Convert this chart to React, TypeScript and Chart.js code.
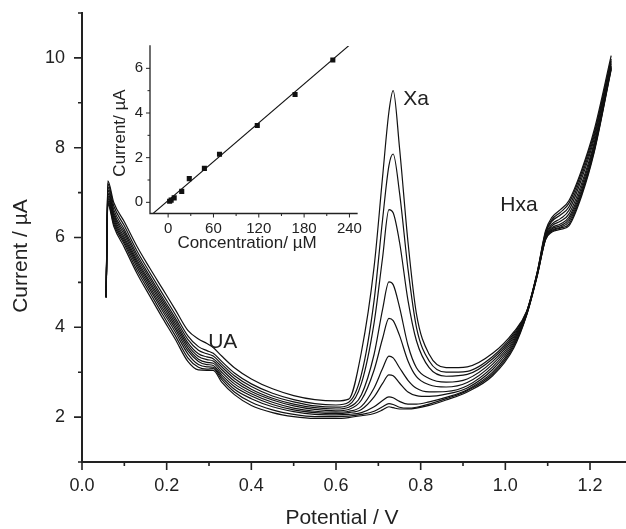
import React, { useEffect, useRef } from "react";
import { Chart, registerables } from "chart.js";
Chart.register(...registerables);

const FONT = "'Liberation Sans', Arial, Helvetica, sans-serif";
const INK = "#222222";
const LINE = "#111111";

// ---------- main voltammograms ----------
const POTENTIAL = [
  0.057, 0.061, 0.075, 0.1, 0.13, 0.16, 0.19, 0.22, 0.25, 0.275, 0.295, 0.31, 0.33, 0.36, 0.4, 0.45, 0.5, 0.55, 0.6,
  0.63, 0.66, 0.69, 0.71, 0.725, 0.735, 0.75, 0.77, 0.79, 0.82, 0.86, 0.91, 0.97,
  1.02, 1.05, 1.075, 1.095, 1.11, 1.13, 1.15, 1.18, 1.21, 1.25,
];

const CURRENT_1 = [
  4.67, 7.26, 6.78, 6.35, 5.8, 5.32, 4.86, 4.4, 3.93, 3.74, 3.64, 3.55, 3.36, 3.1, 2.85, 2.63, 2.48, 2.39, 2.36,
  2.4, 3.45, 5.35, 7.35, 8.8, 9.27, 8.0, 5.9, 4.3, 3.4, 3.1, 3.12, 3.42,
  3.9, 4.35, 5.22, 6.15, 6.45, 6.62, 6.82, 7.5, 8.4, 10.05,
];
const CURRENT_2 = [
  4.67, 7.2, 6.7, 6.26, 5.7, 5.22, 4.75, 4.29, 3.81, 3.57, 3.48, 3.42, 3.24, 2.98, 2.74, 2.53, 2.39, 2.3, 2.27,
  2.33, 2.95, 4.6, 6.4, 7.6, 7.86, 7.0, 5.3, 4.0, 3.25, 3.0, 3.02, 3.35,
  3.86, 4.34, 5.21, 6.12, 6.4, 6.56, 6.76, 7.45, 8.33, 9.98,
];
const CURRENT_3 = [
  4.67, 7.13, 6.62, 6.18, 5.62, 5.14, 4.67, 4.21, 3.73, 3.49, 3.41, 3.36, 3.18, 2.92, 2.68, 2.47, 2.34, 2.25, 2.22,
  2.27, 2.75, 4.1, 5.55, 6.62, 6.55, 5.9, 4.6, 3.7, 3.1, 2.91, 2.95, 3.3,
  3.82, 4.33, 5.2, 6.09, 6.36, 6.5, 6.68, 7.38, 8.27, 9.94,
];
const CURRENT_4 = [
  4.67, 7.06, 6.55, 6.12, 5.56, 5.08, 4.61, 4.15, 3.66, 3.41, 3.34, 3.3, 3.12, 2.86, 2.62, 2.42, 2.29, 2.21, 2.18,
  2.22, 2.5, 3.4, 4.4, 5.01, 4.95, 4.45, 3.6, 3.1, 2.86, 2.78, 2.85, 3.24,
  3.78, 4.32, 5.19, 6.06, 6.3, 6.42, 6.6, 7.3, 8.2, 9.9,
];
const CURRENT_5 = [
  4.67, 6.99, 6.5, 6.06, 5.5, 5.02, 4.55, 4.09, 3.6, 3.35, 3.28, 3.25, 3.06, 2.8, 2.57, 2.38, 2.25, 2.17, 2.14,
  2.17, 2.38, 3.05, 3.75, 4.2, 4.15, 3.82, 3.25, 2.9, 2.72, 2.67, 2.77, 3.18,
  3.74, 4.31, 5.18, 6.03, 6.26, 6.36, 6.52, 7.2, 8.12, 9.86,
];
const CURRENT_6 = [
  4.67, 6.93, 6.45, 6.0, 5.45, 4.97, 4.49, 4.03, 3.54, 3.29, 3.22, 3.2, 3.0, 2.74, 2.52, 2.33, 2.2, 2.13, 2.11,
  2.13, 2.24, 2.65, 3.08, 3.36, 3.32, 3.1, 2.82, 2.64, 2.56, 2.57, 2.7, 3.12,
  3.7, 4.3, 5.17, 6.01, 6.22, 6.3, 6.45, 7.12, 8.06, 9.82,
];
const CURRENT_7 = [
  4.67, 6.88, 6.4, 5.95, 5.4, 4.91, 4.43, 3.97, 3.48, 3.24, 3.17, 3.15, 2.94, 2.68, 2.47, 2.28, 2.16, 2.1, 2.08,
  2.1, 2.17, 2.45, 2.75, 2.94, 2.92, 2.76, 2.56, 2.48, 2.46, 2.51, 2.65, 3.06,
  3.66, 4.29, 5.16, 5.99, 6.19, 6.26, 6.4, 7.05, 8.0, 9.8,
];
const CURRENT_8 = [
  4.67, 6.83, 6.35, 5.9, 5.34, 4.85, 4.37, 3.9, 3.41, 3.17, 3.12, 3.11, 2.89, 2.62, 2.41, 2.23, 2.12, 2.06, 2.05,
  2.06, 2.1, 2.23, 2.37, 2.45, 2.43, 2.35, 2.29, 2.29, 2.34, 2.44, 2.61, 3.0,
  3.62, 4.28, 5.15, 5.97, 6.16, 6.23, 6.35, 7.0, 7.96, 9.78,
];
const CURRENT_9 = [
  4.67, 6.79, 6.3, 5.85, 5.27, 4.78, 4.29, 3.82, 3.32, 3.11, 3.07, 3.08, 2.84, 2.56, 2.33, 2.16, 2.06, 2.01, 2.01,
  2.02, 2.06, 2.13, 2.23, 2.3, 2.28, 2.22, 2.2, 2.22, 2.29, 2.41, 2.59, 2.96,
  3.58, 4.27, 5.14, 5.96, 6.14, 6.21, 6.3, 6.96, 7.93, 9.76,
];
const CURRENT_10 = [
  4.67, 6.75, 6.25, 5.78, 5.2, 4.7, 4.21, 3.74, 3.24, 3.05, 3.04, 3.04, 2.78, 2.5, 2.26, 2.1, 2.01, 1.97, 1.97,
  1.99, 2.03, 2.08, 2.16, 2.23, 2.21, 2.18, 2.18, 2.2, 2.26, 2.38, 2.56, 2.92,
  3.54, 4.26, 5.13, 5.95, 6.12, 6.18, 6.26, 6.92, 7.9, 9.74,
];
const CURVES = [
  CURRENT_1, CURRENT_2, CURRENT_3, CURRENT_4, CURRENT_5,
  CURRENT_6, CURRENT_7, CURRENT_8, CURRENT_9, CURRENT_10,
];

const X_TICKS = [0, 0.2, 0.4, 0.6, 0.8, 1.0, 1.2];
const X_MINOR = [0.1, 0.3, 0.5, 0.7, 0.9, 1.1];
const Y_TICKS = [2, 4, 6, 8, 10];
const Y_MINOR = [1, 3, 5, 7, 9, 11];

const PEAK_NAMES = ["UA", "Xa", "Hxa"];
const PEAK_NAME_X = [0.298, 0.759, 0.988];
const PEAK_NAME_Y = [3.55, 8.94, 6.6];

// ---------- inset calibration ----------
const CONCENTRATION = [2, 4, 8, 18, 28, 48, 68, 118, 168, 218];
const PEAK_CURRENT = [0.05, 0.1, 0.2, 0.49, 1.06, 1.52, 2.15, 3.44, 4.83, 6.37];
const FIT_SLOPE = 0.029;
const FIT_INTERCEPT = 0.08;
const INSET_X_TICKS = [0, 60, 120, 180, 240];
const INSET_X_MINOR = [30, 90, 150, 210];
const INSET_Y_TICKS = [0, 2, 4, 6];
const INSET_Y_MINOR = [1, 3, 5];

type FrameCfg = {
  id: string;
  xMajor: number[];
  xMinor: number[];
  yMajor: number[];
  yMinor: number[];
  majorLen: number;
  minorLen: number;
  axisWidth: number;
  tickWidth: number;
  titleFont: string;
  xTitle: string;
  yTitle: string;
  xTitleAt: [number, number];
  yTitleAt: [number, number];
  labelFont?: string;
  labels?: { text: string; x: number; y: number }[];
};

function framePlugin(cfg: FrameCfg) {
  return {
    id: cfg.id,
    afterDraw(chart: any) {
      const { ctx, chartArea: a, scales } = chart;
      const xs = scales.x;
      const ys = scales.y;
      ctx.save();
      ctx.strokeStyle = INK;
      ctx.lineWidth = cfg.tickWidth;
      ctx.beginPath();
      for (const v of cfg.xMajor) {
        const p = xs.getPixelForValue(v);
        ctx.moveTo(p, a.bottom);
        ctx.lineTo(p, a.bottom + cfg.majorLen);
      }
      for (const v of cfg.xMinor) {
        const p = xs.getPixelForValue(v);
        ctx.moveTo(p, a.bottom);
        ctx.lineTo(p, a.bottom + cfg.minorLen);
      }
      for (const v of cfg.yMajor) {
        const p = ys.getPixelForValue(v);
        ctx.moveTo(a.left, p);
        ctx.lineTo(a.left - cfg.majorLen, p);
      }
      for (const v of cfg.yMinor) {
        const p = ys.getPixelForValue(v);
        ctx.moveTo(a.left, p);
        ctx.lineTo(a.left - cfg.minorLen, p);
      }
      ctx.stroke();
      ctx.lineWidth = cfg.axisWidth;
      ctx.lineCap = "square";
      ctx.beginPath();
      ctx.moveTo(a.left, a.top);
      ctx.lineTo(a.left, a.bottom);
      ctx.lineTo(a.right, a.bottom);
      ctx.stroke();

      ctx.fillStyle = INK;
      ctx.font = cfg.titleFont;
      ctx.textAlign = "center";
      ctx.textBaseline = "middle";
      ctx.fillText(cfg.xTitle, cfg.xTitleAt[0], cfg.xTitleAt[1]);
      ctx.save();
      ctx.translate(cfg.yTitleAt[0], cfg.yTitleAt[1]);
      ctx.rotate(-Math.PI / 2);
      ctx.fillText(cfg.yTitle, 0, 0);
      ctx.restore();

      if (cfg.labels && cfg.labelFont) {
        ctx.font = cfg.labelFont;
        ctx.textAlign = "left";
        ctx.textBaseline = "alphabetic";
        for (const l of cfg.labels) {
          ctx.fillText(l.text, xs.getPixelForValue(l.x), ys.getPixelForValue(l.y));
        }
      }
      ctx.restore();
    },
  };
}

function fixedSize(kind: "w" | "h", size: number) {
  return (scale: any) => {
    if (kind === "w") scale.width = size;
    else scale.height = size;
    scale.paddingTop = 0;
    scale.paddingBottom = 0;
    scale.paddingLeft = 0;
    scale.paddingRight = 0;
  };
}

export default function App() {
  const mainRef = useRef<HTMLCanvasElement>(null);
  const insetRef = useRef<HTMLCanvasElement>(null);

  useEffect(() => {
    const mainChart = new Chart(mainRef.current as HTMLCanvasElement, {
      type: "line",
      data: {
        datasets: CURVES.map((c) => ({
          data: POTENTIAL.map((x, i) => ({ x, y: c[i] })),
          borderColor: LINE,
          borderWidth: 1.2,
          pointRadius: 0,
          fill: false,
          cubicInterpolationMode: "monotone" as const,
        })),
      },
      options: {
        responsive: false,
        animation: false,
        devicePixelRatio: 1,
        events: [],
        layout: { padding: { left: 0, right: 0, top: 13, bottom: 0 } },
        plugins: { legend: { display: false }, tooltip: { enabled: false } },
        scales: {
          x: {
            type: "linear",
            min: 0,
            max: 1.285,
            grid: { display: false, drawTicks: false },
            border: { display: false },
            afterBuildTicks: (s: any) => {
              s.ticks = X_TICKS.map((value) => ({ value }));
            },
            afterFit: fixedSize("h", 67),
            ticks: {
              padding: 13,
              maxRotation: 0,
              autoSkip: false,
              color: INK,
              font: { family: FONT, size: 18 },
              callback: (v: any) => Number(v).toFixed(1),
            },
          },
          y: {
            type: "linear",
            min: 1,
            max: 11,
            grid: { display: false, drawTicks: false },
            border: { display: false },
            afterBuildTicks: (s: any) => {
              s.ticks = Y_TICKS.map((value) => ({ value }));
            },
            afterFit: fixedSize("w", 82),
            ticks: {
              padding: 17,
              autoSkip: false,
              color: INK,
              font: { family: FONT, size: 18 },
              callback: (v: any) => String(v),
            },
          },
        },
      },
      plugins: [
        framePlugin({
          id: "mainFrame",
          xMajor: X_TICKS,
          xMinor: X_MINOR,
          yMajor: Y_TICKS,
          yMinor: Y_MINOR,
          majorLen: 8,
          minorLen: 4,
          axisWidth: 2,
          tickWidth: 1.6,
          titleFont: `21px ${FONT}`,
          xTitle: "Potential / V",
          yTitle: "Current / \u00b5A",
          xTitleAt: [342, 518],
          yTitleAt: [21, 256],
          labelFont: `21px ${FONT}`,
          labels: PEAK_NAMES.map((text, i) => ({ text, x: PEAK_NAME_X[i], y: PEAK_NAME_Y[i] })),
        }),
      ],
    } as any);

    const insetChart = new Chart(insetRef.current as HTMLCanvasElement, {
      type: "scatter",
      data: {
        datasets: [
          {
            type: "line",
            data: [-24, 250].map((c) => ({ x: c, y: FIT_SLOPE * c + FIT_INTERCEPT })),
            borderColor: LINE,
            borderWidth: 1.1,
            pointRadius: 0,
            fill: false,
          },
          {
            type: "scatter",
            data: CONCENTRATION.map((c, i) => ({ x: c, y: PEAK_CURRENT[i] })),
            pointStyle: "rect",
            pointRadius: 3.6,
            backgroundColor: LINE,
            borderColor: LINE,
            borderWidth: 0,
          },
        ],
      },
      options: {
        responsive: false,
        animation: false,
        devicePixelRatio: 1,
        events: [],
        layout: { padding: { left: 110, right: 269, top: 46, bottom: 275.5 } },
        plugins: { legend: { display: false }, tooltip: { enabled: false } },
        scales: {
          x: {
            type: "linear",
            min: -24,
            max: 250,
            grid: { display: false, drawTicks: false },
            border: { display: false },
            afterBuildTicks: (s: any) => {
              s.ticks = INSET_X_TICKS.map((value) => ({ value }));
            },
            afterFit: fixedSize("h", 40),
            ticks: {
              padding: 6,
              maxRotation: 0,
              autoSkip: false,
              color: INK,
              font: { family: FONT, size: 15 },
              callback: (v: any) => String(v),
            },
          },
          y: {
            type: "linear",
            min: -0.5,
            max: 7,
            grid: { display: false, drawTicks: false },
            border: { display: false },
            afterBuildTicks: (s: any) => {
              s.ticks = INSET_Y_TICKS.map((value) => ({ value }));
            },
            afterFit: fixedSize("w", 40),
            ticks: {
              padding: 7,
              autoSkip: false,
              color: INK,
              font: { family: FONT, size: 15 },
              callback: (v: any) => String(v),
            },
          },
        },
      },
      plugins: [
        framePlugin({
          id: "insetFrame",
          xMajor: INSET_X_TICKS,
          xMinor: INSET_X_MINOR,
          yMajor: INSET_Y_TICKS,
          yMinor: INSET_Y_MINOR,
          majorLen: 4,
          minorLen: 2.5,
          axisWidth: 1.3,
          tickWidth: 1,
          titleFont: `17px ${FONT}`,
          xTitle: "Concentration/ \u00b5M",
          yTitle: "Current/ \u00b5A",
          xTitleAt: [247, 243],
          yTitleAt: [120, 133],
        }),
      ],
    } as any);

    return () => {
      mainChart.destroy();
      insetChart.destroy();
    };
  }, []);

  return (
    <div style={{ position: "fixed", left: 0, top: 0, width: 626, height: 529, background: "#ffffff" }}>
      <canvas ref={mainRef} width={626} height={529} style={{ position: "absolute", left: 0, top: 0 }} />
      <canvas ref={insetRef} width={626} height={529} style={{ position: "absolute", left: 0, top: 0 }} />
    </div>
  );
}
